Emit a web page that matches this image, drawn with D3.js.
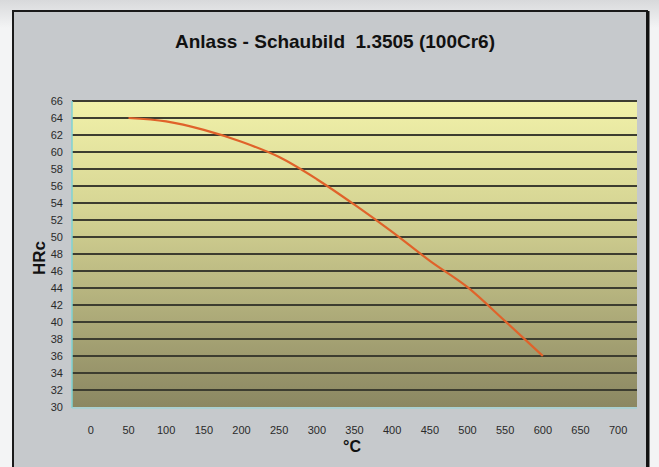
<!DOCTYPE html>
<html>
<head>
<meta charset="utf-8">
<script src="https://cdn.jsdelivr.net/npm/d3@7"></script>
<style>
  html, body { margin: 0; padding: 0; background: #f3f4f5; }
  svg { display: block; }
</style>
</head>
<body>
<svg id="chart" width="659" height="467"></svg>
<script>
const title = "Anlass - Schaubild  1.3505 (100Cr6)";
const xCategories = [0, 50, 100, 150, 200, 250, 300, 350, 400, 450, 500, 550, 600, 650, 700];
const temps = [50, 100, 150, 200, 250, 300, 350, 400, 450, 500, 550, 600];
const hardness = [64, 63.6, 62.6, 61.2, 59.4, 56.8, 53.8, 50.6, 47.2, 44.1, 40.1, 36];
const yTicks = d3.range(30, 67, 2);
const xLabel = "°C";
const yLabel = "HRc";

(function () {
const svg = d3.select("#chart");
const defs = svg.append("defs");

const bgGrad = defs.append("linearGradient").attr("id", "bgGrad").attr("x1", 0).attr("y1", 0).attr("x2", 0).attr("y2", 1);
bgGrad.append("stop").attr("offset", "0%").attr("stop-color", "#d8d9db");
bgGrad.append("stop").attr("offset", "6%").attr("stop-color", "#f3f4f5");
bgGrad.append("stop").attr("offset", "100%").attr("stop-color", "#f3f4f5");

const plotGrad = defs.append("linearGradient").attr("id", "plotGrad").attr("x1", 0).attr("y1", 0).attr("x2", 0).attr("y2", 1);
plotGrad.append("stop").attr("offset", "0%").attr("stop-color", "#f1f1a9");
plotGrad.append("stop").attr("offset", "35%").attr("stop-color", "#d6d594");
plotGrad.append("stop").attr("offset", "100%").attr("stop-color", "#8b8762");

svg.append("rect").attr("x", 0).attr("y", 0).attr("width", 659).attr("height", 467).attr("fill", "url(#bgGrad)");

// panel
svg.append("rect").attr("x", 13).attr("y", 11).attr("width", 634).attr("height", 470)
  .attr("fill", "#c6c9cc").attr("stroke", "#1a1a1a").attr("stroke-width", 2);
svg.append("line").attr("x1", 648).attr("x2", 648).attr("y1", 11).attr("y2", 467)
  .attr("stroke", "#111").attr("stroke-width", 3);

const pL = 72, pR = 637, pT = 101, pB = 407;

const x = d3.scaleBand().domain(xCategories).range([pL, pR]);
const xc = v => x(v) + x.bandwidth() / 2;
const y = d3.scaleLinear().domain([30, 66]).range([pB, pT]);

// plot area
svg.append("rect").attr("x", pL).attr("y", pT).attr("width", pR - pL).attr("height", pB - pT)
  .attr("fill", "url(#plotGrad)");

// gridlines
svg.append("g").selectAll("line").data(yTicks.filter(d => d > 30)).join("line")
  .attr("x1", pL).attr("x2", pR)
  .attr("y1", d => y(d)).attr("y2", d => y(d))
  .attr("stroke", "#3d3d30").attr("stroke-width", 2);

// axis lines (cyan)
svg.append("line").attr("x1", pL).attr("x2", pL).attr("y1", pT).attr("y2", pB + 1)
  .attr("stroke", "#7fd3d3").attr("stroke-width", 1.5);
svg.append("line").attr("x1", pL).attr("x2", pR).attr("y1", pB + 1).attr("y2", pB + 1)
  .attr("stroke", "#8fd6d6").attr("stroke-width", 1.2);

// y axis labels
const yAxis = d3.axisLeft(y).tickValues(yTicks).tickSize(0).tickPadding(9);
const gy = svg.append("g").attr("transform", `translate(${pL},0)`).call(yAxis);
gy.select(".domain").remove();
gy.selectAll("text").attr("font-family", "Liberation Sans, Arial, sans-serif").attr("font-size", 11)
  .attr("fill", "#2a2a2a");

// x axis labels
const xAxis = d3.axisBottom(x).tickSize(0).tickPadding(19);
const gx = svg.append("g").attr("transform", `translate(0,${pB})`).call(xAxis);
gx.select(".domain").remove();
gx.selectAll("text").attr("font-family", "Liberation Sans, Arial, sans-serif").attr("font-size", 11)
  .attr("fill", "#2a2a2a");

// title
svg.append("text").attr("x", 335).attr("y", 48).attr("text-anchor", "middle")
  .attr("font-family", "Liberation Sans, Arial, sans-serif").attr("font-weight", "bold")
  .attr("font-size", 19).attr("fill", "#111").style("white-space", "pre").text(title);

// axis titles
svg.append("text").attr("x", 352).attr("y", 452).attr("text-anchor", "middle")
  .attr("font-family", "Liberation Sans, Arial, sans-serif").attr("font-weight", "bold")
  .attr("font-size", 16).attr("fill", "#111").text(xLabel);
svg.append("text").attr("transform", "translate(45,258) rotate(-90)").attr("text-anchor", "middle")
  .attr("font-family", "Liberation Sans, Arial, sans-serif").attr("font-weight", "bold")
  .attr("font-size", 17).attr("fill", "#111").text(yLabel);

// line
const line = d3.line().x((d, i) => xc(temps[i])).y(d => y(d)).curve(d3.curveMonotoneX);
svg.append("path").datum(hardness).attr("d", line)
  .attr("fill", "none").attr("stroke", "#e0622a").attr("stroke-width", 2.2);
})();
</script>
</body>
</html>
